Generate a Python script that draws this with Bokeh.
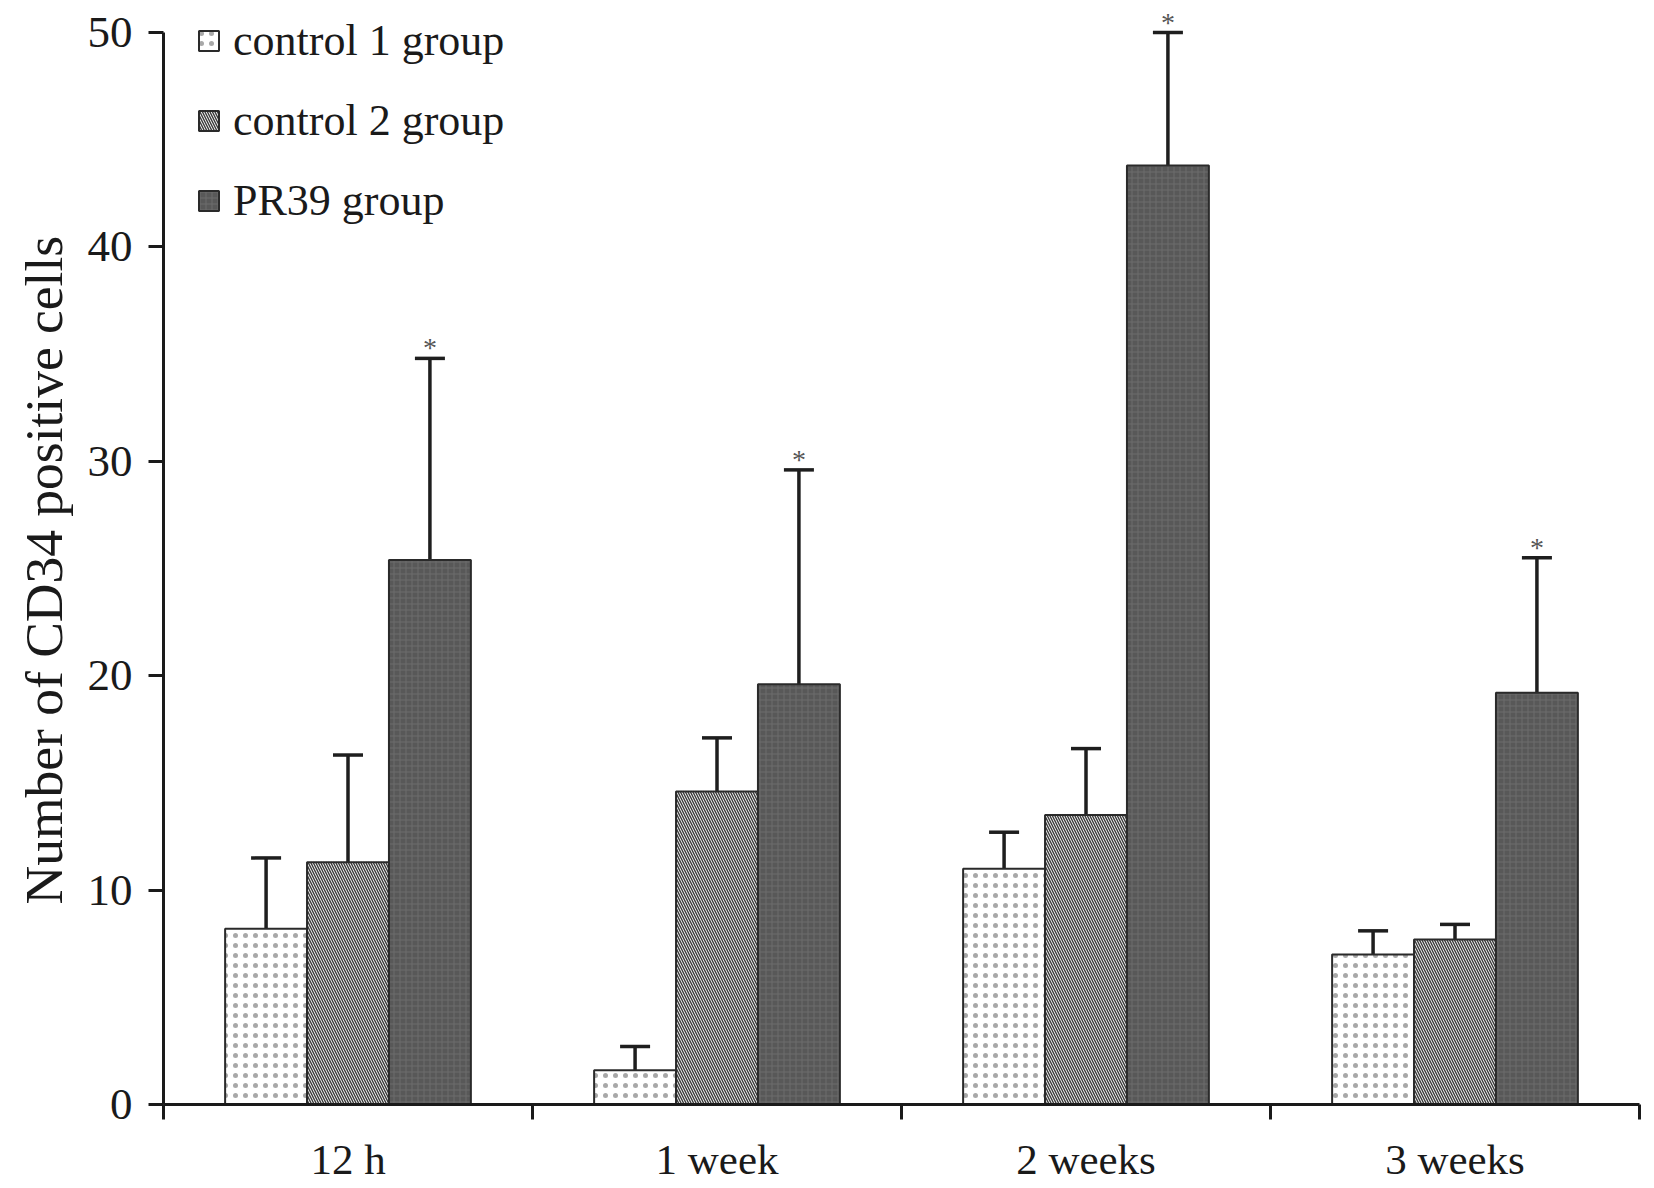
import numpy as np
from bokeh.plotting import figure
from bokeh.models import (Range1d, FixedTicker, LinearAxis, Whisker, TeeHead,
                          ColumnDataSource, Legend, LegendItem, LabelSet, Title)
from bokeh.embed import file_html
from bokeh.resources import INLINE

categories = ["12 h", "1 week", "2 weeks", "3 weeks"]
groups = ["control 1 group", "control 2 group", "PR39 group"]
control1 = [8.2, 1.6, 11.0, 7.0]
control1_err = [11.5, 2.7, 12.7, 8.1]
control2 = [11.3, 14.6, 13.5, 7.7]
control2_err = [16.3, 17.1, 16.6, 8.4]
pr39 = [25.4, 19.6, 43.8, 19.2]
pr39_err = [34.8, 29.6, 50.0, 25.5]
y_ticks = [0, 10, 20, 30, 40, 50]
y_max = 50
y_title = "Number of CD34 positive cells"

FONT = "Liberation Serif"
W, H = 1646, 1188
TOP, BOTTOM = 6, 84
FRAME_H = H - TOP - BOTTOM
HEADROOM = 26  # px of free frame above the top of the axis
y_end = y_max * FRAME_H / (FRAME_H - HEADROOM)

p = figure(width=W, height=H, output_backend="svg", toolbar_location=None,
           x_range=Range1d(0, len(categories)), y_range=Range1d(0, y_end),
           x_axis_type=None, y_axis_type=None,
           min_border_left=163, min_border_right=7, min_border_top=TOP,
           min_border_bottom=BOTTOM)
p.outline_line_color = None
p.xgrid.visible = False
p.ygrid.visible = False
p.background_fill_color = "white"
p.border_fill_color = "white"

centers = np.arange(len(categories)) + 0.5
bw = 0.222
offsets = [-bw, 0.0, bw]

styles = [
    dict(fill_color="white", hatch_pattern="dot", hatch_color="#a8a8a8",
         hatch_scale=10, hatch_weight=1.4),
    dict(fill_color="#f4f4f4", hatch_pattern="left_diagonal_line", hatch_color="#3a3a3a",
         hatch_scale=5, hatch_weight=1.4),
    dict(fill_color="#585858", hatch_pattern="cross", hatch_color="#6c6c6c",
         hatch_scale=6, hatch_weight=1),
]
vals = [control1, control2, pr39]
errs = [control1_err, control2_err, pr39_err]

renderers = []
for i, (v, e, st) in enumerate(zip(vals, errs, styles)):
    src = ColumnDataSource(dict(x=centers + offsets[i], top=v, err=e))
    r = p.vbar(x="x", top="top", bottom=0, width=bw, source=src,
               line_color="#2a2a2a", line_width=2, **st)
    renderers.append(r)
    w = Whisker(base="x", lower="top", upper="err", source=src, dimension="height",
                line_color="#1e1e1e", line_width=3.5,
                upper_head=TeeHead(size=30, line_color="#1e1e1e", line_width=3.5),
                lower_head=None, level="underlay")
    p.add_layout(w)

star_src = ColumnDataSource(dict(x=centers + offsets[2], y=pr39_err, t=["*"] * len(categories)))
stars = LabelSet(x="x", y="y", text="t", source=star_src, text_align="center",
                 text_baseline="bottom", y_offset=-5, text_font=FONT,
                 text_font_size="28px", text_color="#555555")
p.add_layout(stars)

# y axis (line limited to 0..50)
yax = LinearAxis(ticker=FixedTicker(ticks=y_ticks, minor_ticks=[]), bounds=(0, y_max))
yax.axis_line_width = 3
yax.axis_line_color = "#1a1a1a"
yax.major_tick_line_width = 3
yax.major_tick_line_color = "#1a1a1a"
yax.major_tick_in = 0
yax.major_tick_out = 15
yax.minor_tick_line_color = None
yax.major_label_text_font = FONT
yax.major_label_text_font_size = "45px"
yax.major_label_text_color = "#1a1a1a"
yax.major_label_standoff = 16
p.add_layout(yax, "left")

# y title centred on the 0..50 axis rather than on the whole frame
ttl = Title(text=y_title, align="left", offset=200, text_font=FONT,
            text_font_size="53.5px", text_font_style="normal", text_color="#1a1a1a",
            standoff=21)
p.add_layout(ttl, "left")

# x axis: labels at category centres, tick marks at boundaries
xax = LinearAxis(ticker=FixedTicker(ticks=list(centers),
                                    minor_ticks=list(range(len(categories) + 1))))
xax.major_label_overrides = {float(c): lab for c, lab in zip(centers, categories)}
xax.axis_line_width = 3
xax.axis_line_color = "#1a1a1a"
xax.major_tick_line_color = None
xax.minor_tick_line_color = "#1a1a1a"
xax.minor_tick_line_width = 3
xax.minor_tick_in = 0
xax.minor_tick_out = 15
xax.major_label_text_font = FONT
xax.major_label_text_font_size = "43px"
xax.major_label_text_color = "#1a1a1a"
xax.major_label_standoff = 16
p.add_layout(xax, "below")

items = [LegendItem(label=g, renderers=[r]) for g, r in zip(groups, renderers)]
legend = Legend(items=items, location=(33, 878))
legend.label_text_font = FONT
legend.label_text_font_size = "44px"
legend.label_text_color = "#1a1a1a"
legend.glyph_width = 25
legend.glyph_height = 25
legend.label_standoff = 12
legend.spacing = 29
legend.padding = 0
legend.margin = 0
legend.border_line_color = None
legend.background_fill_alpha = 0
p.add_layout(legend, "center")

open("out.html", "w").write(file_html(p, INLINE))
